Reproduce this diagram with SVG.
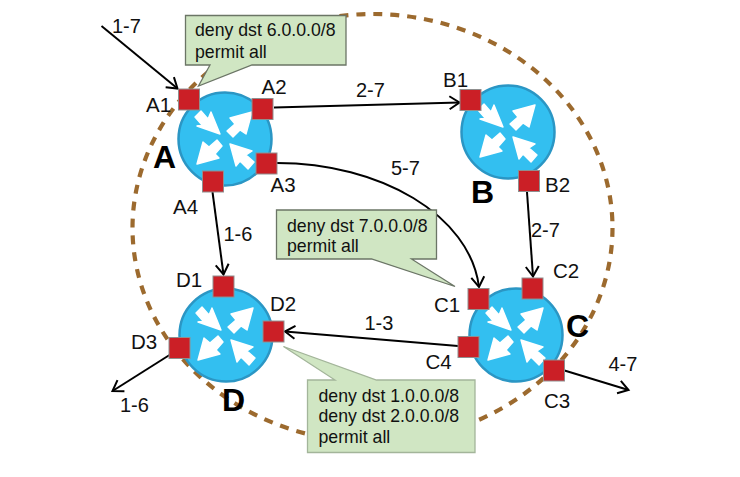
<svg xmlns="http://www.w3.org/2000/svg" xmlns:xlink="http://www.w3.org/1999/xlink" width="740" height="477" viewBox="0 0 740 477">
<style>
text{font-family:"Liberation Sans",Arial,sans-serif;fill:#111;font-size:20.5px}
.lnk{font-size:20px}
.big{font-weight:bold;font-size:32px;fill:#000}
.note{font-size:17.7px}
.port{fill:#cb1f26;stroke:#8f8f8f;stroke-width:1}
.disc{fill:#33bff0;stroke:#2b96c4;stroke-width:2.5}
.wa{fill:#fff;stroke:#fff;stroke-width:1.4;stroke-linejoin:round}
.call{fill:#d0e6c3;stroke:#6b7566;stroke-width:1.3}
.conn{fill:none;stroke:#000;stroke-width:2}
</style>
<defs>
<marker id="head" markerUnits="userSpaceOnUse" markerWidth="18" markerHeight="18" refX="14" refY="9" orient="auto" overflow="visible">
<path d="M4,2.5 L14,9 L4,15.5" fill="none" stroke="#000" stroke-width="2"/>
</marker>
<g id="router">
<circle class="disc" r="46.5"/>
<polygon class="wa" points="-5,-5 -14,-27 -17,-20 -24,-28 -30,-22 -23,-14 -28,-13"/>
<polygon class="wa" points="27,-27 5,-21 10,-15 2,-8 8,-2 15,-9 21,-5"/>
<polygon class="wa" points="-28,25 -22,3 -16,8 -8,1 -3,7 -10,15 -6,19"/>
<polygon class="wa" points="5,5 27,12 21,16 29,23 23,30 15,22 11,27"/>
</g>
</defs>
<ellipse id="boundary" cx="372.500" cy="228" rx="240" ry="214" fill="none" stroke="#9c6a2e" stroke-width="4.200" stroke-dasharray="9 8"/>
<g id="connectors">
<path class="conn" marker-end="url(#head)" d="M101.500,26 L177.500,88.500"/>
<path class="conn" marker-end="url(#head)" d="M274,107.500 L459.500,102.500"/>
<path class="conn" marker-end="url(#head)" d="M277,163 C380,163 470,215 479,287"/>
<path class="conn" marker-end="url(#head)" d="M212.500,192 L223.500,274.500"/>
<path class="conn" marker-end="url(#head)" d="M527,192 L533,276.500"/>
<path class="conn" marker-end="url(#head)" d="M458,346 L285,331.500"/>
<path class="conn" marker-end="url(#head)" d="M169.500,355 L112.500,391"/>
<path class="conn" marker-end="url(#head)" d="M564.500,370.500 L628.500,390"/>
</g>
<g id="router-A">
<use xlink:href="#router" href="#router" x="225" y="139"/>
<rect class="port" x="178.500" y="89" width="21" height="21"/>
<rect class="port" x="252" y="98.500" width="21" height="21"/>
<rect class="port" x="256" y="153" width="21" height="21"/>
<rect class="port" x="202.500" y="171" width="21" height="21"/>
<text x="146" y="112">A1</text><text x="261.500" y="94">A2</text><text x="270.500" y="192">A3</text><text x="173" y="214">A4</text>
<text class="big" x="153" y="168">A</text>
</g>
<g id="router-B">
<use xlink:href="#router" href="#router" x="508" y="132"/>
<rect class="port" x="460" y="89.500" width="21" height="21"/>
<rect class="port" x="518.500" y="170.500" width="21" height="21"/>
<text x="443" y="86.500">B1</text><text x="545" y="192">B2</text>
<text class="big" x="471" y="203">B</text>
</g>
<g id="router-C">
<use xlink:href="#router" href="#router" x="516" y="335"/>
<rect class="port" x="468" y="288.500" width="21" height="21"/>
<rect class="port" x="522" y="278" width="21" height="21"/>
<rect class="port" x="543.500" y="360" width="21" height="21"/>
<rect class="port" x="458" y="336.500" width="21" height="21"/>
<text x="434" y="311.500">C1</text><text x="553" y="278">C2</text><text x="544" y="407.500">C3</text><text x="425.500" y="369">C4</text>
<text class="big" x="566" y="337">C</text>
</g>
<g id="router-D">
<use xlink:href="#router" href="#router" x="226" y="335"/>
<rect class="port" x="213" y="276" width="21" height="21"/>
<rect class="port" x="263" y="321" width="21" height="21"/>
<rect class="port" x="169" y="337.500" width="21" height="21"/>
<text x="176" y="287">D1</text><text x="270" y="310.500">D2</text><text x="131" y="349">D3</text>
<text class="big" x="222" y="411">D</text>
</g>
<g id="link-labels">
<text class="lnk" x="112" y="33">1-7</text><text class="lnk" x="356" y="96.500">2-7</text><text class="lnk" x="223.500" y="241">1-6</text><text class="lnk" x="391" y="175">5-7</text><text class="lnk" x="531" y="236.500">2-7</text><text class="lnk" x="364.500" y="330">1-3</text><text class="lnk" x="120" y="411.500">1-6</text><text class="lnk" x="608.500" y="370.500">4-7</text>
</g>
<g id="note-A">
<polygon class="call" points="185.500,15.500 346,15.500 346,65 252,65 198.500,86 210,65 185.500,65"/>
<text class="note" x="195" y="36">deny dst 6.0.0.0/8</text><text class="note" x="195" y="57.500">permit all</text>
</g>
<g id="note-C">
<polygon class="call" points="276.500,210 436.500,210 436.500,259 411.500,259 455,286.500 371.500,259 276.500,259"/>
<text class="note" x="287" y="231.500">deny dst 7.0.0.0/8</text><text class="note" x="287" y="252">permit all</text>
</g>
<g id="note-D">
<polygon class="call" points="307.500,380 335,380 283.500,346.500 376.500,380 475,380 475,452.500 307.500,452.500" style="stroke:#a3b59a"/>
<text class="note" x="318.500" y="401.500">deny dst 1.0.0.0/8</text><text class="note" x="318.500" y="422">deny dst 2.0.0.0/8</text><text class="note" x="318.500" y="442.500">permit all</text>
</g>
</svg>
